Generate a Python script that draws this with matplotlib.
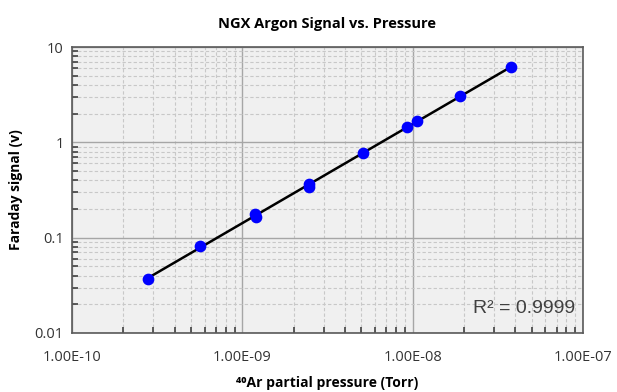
import numpy as np
import matplotlib.pyplot as plt
from matplotlib.ticker import FixedLocator, FuncFormatter, LogLocator, NullFormatter

# ---- data ----
pressure = [2.79e-10, 5.65e-10, 1.19e-9, 1.20e-9, 2.45e-9, 2.46e-9,
            5.12e-9, 9.27e-9, 1.06e-8, 1.90e-8, 3.78e-8]
signal = [0.0369, 0.0818, 0.178, 0.166, 0.365, 0.340,
          0.774, 1.45, 1.68, 3.07, 6.10]
x_ticks = [1e-10, 1e-9, 1e-8, 1e-7]
y_ticks = [0.01, 0.1, 1, 10]
r2_text = "R\u00b2 = 0.9999"

fig = plt.figure(figsize=(6.17, 3.92), dpi=100)
ax = fig.add_axes([72 / 617, 1 - 333 / 392, 511 / 617, 286 / 392])
ax.set_facecolor('#f0f0f0')

ax.set_xscale('log')
ax.set_yscale('log')
ax.set_xlim(1e-10, 1e-7)
ax.set_ylim(0.01, 10)

# power-law trendline (linear fit in log space)
lx, ly = np.log10(pressure), np.log10(signal)
slope, icpt = np.polyfit(lx, ly, 1)
xf = np.array([min(pressure), max(pressure)])
ax.plot(xf, 10 ** (icpt + slope * np.log10(xf)), color='black', lw=1.8, zorder=3)
ax.scatter(pressure, signal, s=55, color='#0000ff', edgecolors='#0000ff', zorder=4)

# grids
ax.xaxis.set_major_locator(FixedLocator(x_ticks))
ax.yaxis.set_major_locator(FixedLocator(y_ticks))
ax.xaxis.set_minor_locator(LogLocator(base=10, subs=np.arange(2, 10)))
ax.yaxis.set_minor_locator(LogLocator(base=10, subs=np.arange(2, 10)))
ax.xaxis.set_minor_formatter(NullFormatter())
ax.yaxis.set_minor_formatter(NullFormatter())
ax.grid(which='major', color='#a6a6a6', lw=1.0, ls='-')
ax.grid(which='minor', color='#c8c8c8', lw=0.8, ls=(0, (3, 2)))
ax.set_axisbelow(True)

ax.xaxis.set_major_formatter(FuncFormatter(lambda v, p: f"{v:.2E}".replace("E-", "E-")))
ax.yaxis.set_major_formatter(FuncFormatter(lambda v, p: f"{v:g}"))

ax.tick_params(which='both', direction='in', top=False, right=False, color='#404040')
ax.tick_params(which='major', length=0)
ax.tick_params(which='minor', length=4, width=1.2)
ax.tick_params(axis='x', which='major', pad=12)
ax.tick_params(axis='y', which='major', pad=6)
for lab in ax.get_xticklabels() + ax.get_yticklabels():
    lab.set_fontfamily('Open Sans')
    lab.set_fontsize(10.5)
    lab.set_color('#333333')
for sp in ax.spines.values():
    sp.set_color('#5a5a5a')
    sp.set_linewidth(1.2)

ax.set_title("NGX Argon Signal vs. Pressure", fontsize=10.5, fontweight='bold',
             family='Open Sans', pad=14)
ax.set_xlabel("\u2074\u2070Ar partial pressure (Torr)", fontsize=10, fontweight='bold',
              family=['Open Sans', 'DejaVu Sans'], labelpad=8)
ax.set_ylabel("Faraday signal (v)", fontsize=10, fontweight='bold',
              family='Open Sans', labelpad=8)

ax.text(0.985, 0.085, r2_text, transform=ax.transAxes, ha='right', va='center',
        fontsize=14, family='Liberation Sans', color='#404040')

fig.savefig('out.png', dpi=100)
